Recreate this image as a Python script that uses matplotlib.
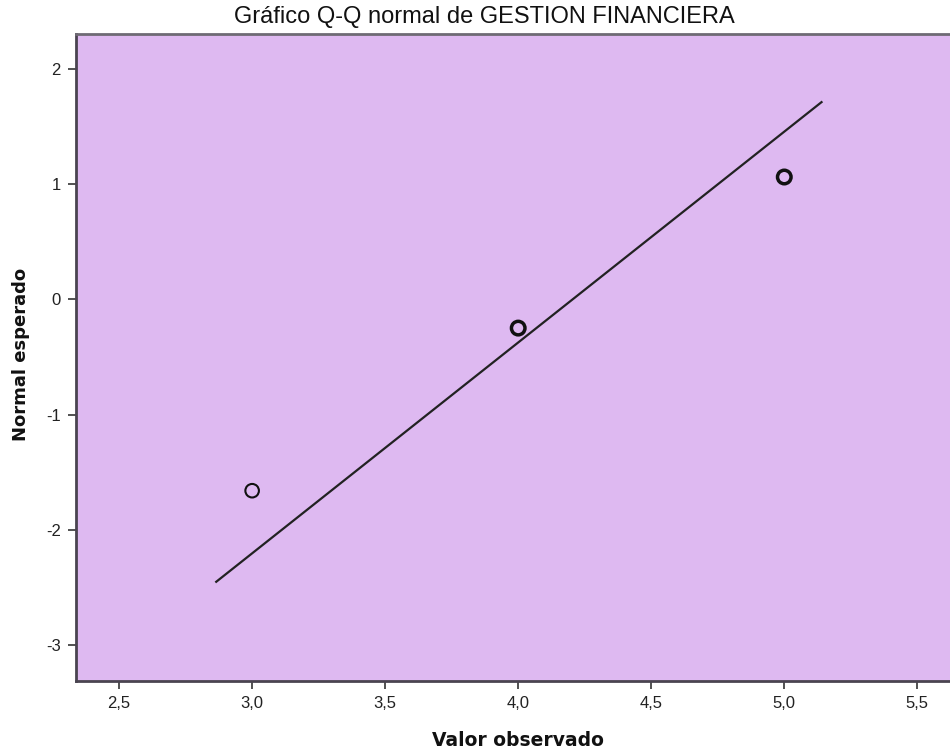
import matplotlib
matplotlib.use("Agg")
import matplotlib.pyplot as plt
import numpy as np

plt.rcParams['font.family'] = ['Liberation Sans', 'DejaVu Sans']

# observed values and expected normal quantiles
observed = [3.0, 4.0, 5.0]
expected = [-1.66, -0.25, 1.06]
edge_widths = [1.5, 2.5, 2.5]   # repeated observations look bolder

# reference line: y = (x - mean) / sd
line_mean = 4.205
line_sd = 0.547
line_x = [2.865, 5.14]

xticks = [2.5, 3.0, 3.5, 4.0, 4.5, 5.0, 5.5]
yticks = [-3, -2, -1, 0, 1, 2]

fig = plt.figure(figsize=(9.5, 7.56), dpi=100)
ax = fig.add_axes([76/950, 1 - 681/756, 1 - 76/950 + 0.002, (681 - 34)/756])
ax.set_facecolor('#DEB9F1')

lx = np.array(line_x)
ax.plot(lx, (lx - line_mean) / line_sd, color='#222222', lw=1.6, zorder=2)

for x, y, w in zip(observed, expected, edge_widths):
    ax.scatter([x], [y], s=95, facecolors='none', edgecolors='#111111',
               linewidths=w, zorder=3)

ax.set_xlim(2.338, 5.63)
ax.set_ylim(-3.31, 2.30)
ax.set_xticks(xticks)
ax.set_xticklabels([f'{t:.1f}'.replace('.', ',') for t in xticks])
ax.set_yticks(yticks)
ax.set_yticklabels([str(t) for t in yticks])
ax.tick_params(direction='out', length=6, width=1.2, color='#333333',
               labelsize=12, labelcolor='#222222', pad=5)

for side in ['left', 'bottom']:
    ax.spines[side].set_color('#4a4450')
    ax.spines[side].set_linewidth(2)
ax.spines['top'].set_color('#6e6a74')
ax.spines['top'].set_linewidth(2)
ax.spines['right'].set_visible(False)

fig.text(484/950, 1 - 17.5/756, 'Gráfico Q-Q normal de GESTION FINANCIERA',
         ha='center', va='center', fontsize=17, color='#111111')
fig.text(518/950, 1 - 740/756, 'Valor observado', ha='center', va='center',
         fontsize=13.5, fontweight='bold', color='#111111', family='DejaVu Sans')
fig.text(21/950, 1 - 354/756, 'Normal esperado', ha='center', va='center',
         rotation=90, fontsize=13, fontweight='bold', color='#111111',
         family='DejaVu Sans')

fig.savefig('out.png', dpi=100)
